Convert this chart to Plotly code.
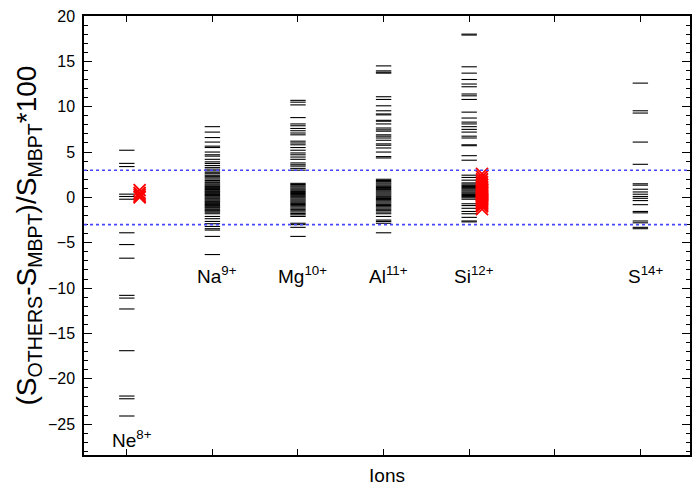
import plotly.graph_objects as go

# Ion positions on the x axis and their labels
ion_labels = ["Ne<sup>8+</sup>", "Na<sup>9+</sup>", "Mg<sup>10+</sup>",
              "Al<sup>11+</sup>", "Si<sup>12+</sup>", "S<sup>14+</sup>"]
ion_x = [1, 2, 3, 4, 5, 7]
label_y = [-26.6, -8.6, -8.6, -8.6, -8.6, -8.6]

# Percentage deviation of other calculations from MBPT, per ion
ne_dev = [5.2, 3.75, 3.4, 0.36, 0.1, -0.2, -3.9, -5.2, -6.7, -10.8, -11.1,
          -12.3, -16.9, -21.9, -22.2, -24.1]
na_dev = [7.8, 7.2, 6.6, 6.1, 5.65, 5.5, 5.0, 4.7, 4.55, 4.2, 3.92, 3.74,
          3.52, 3.31, 3.12, 2.93, 2.77, 2.61, 2.44, 2.32, 2.16, 2.02, 1.86,
          1.71, 1.62, 1.49, 1.38, 1.27, 1.19, 1.08, 0.97, 0.88, 0.79, 0.68,
          0.61, 0.52, 0.41, 0.33, 0.22, 0.14, 0.03, -0.08, -0.17, -0.28,
          -0.39, -0.47, -0.58, -0.69, -0.77, -0.88, -0.98, -1.09, -1.18,
          -1.31, -1.42, -1.51, -1.63, -1.8, -2.1, -2.35, -2.65, -2.9, -3.2,
          -3.45, -3.6, -4.3, -6.3]
mg_dev = [10.7, 10.5, 10.2, 8.8, 8.1, 7.9, 7.6, 7.35, 7.1, 6.9, 6.2, 6.0,
          5.8, 5.5, 5.2, 4.9, 4.7, 4.45, 4.2, 3.8, 3.6, 3.45, 3.2, 3.0,
          1.55, 1.42, 1.28, 1.16, 1.03, 0.91, 0.79, 0.66, 0.55, 0.43, 0.31,
          0.19, 0.08, -0.04, -0.17, -0.29, -0.41, -0.53, -0.66, -0.78,
          -0.91, -1.04, -1.18, -1.32, -1.47, -1.61, -1.78, -1.92, -2.1,
          -2.85, -3.0, -3.3, -4.3]
al_dev = [14.5, 13.95, 13.8, 13.7, 11.1, 10.8, 10.1, 9.55, 9.2, 9.1, 8.5,
          8.4, 8.1, 7.65, 7.45, 7.3, 6.9, 6.75, 6.55, 6.3, 5.9, 5.75, 5.45,
          5.0, 4.5, 4.35, 2.0, 1.87, 1.74, 1.6, 1.48, 1.35, 1.22, 1.1, 0.97,
          0.86, 0.73, 0.61, 0.49, 0.37, 0.25, 0.12, 0.01, -0.12, -0.24,
          -0.37, -0.5, -0.63, -0.77, -0.9, -1.03, -1.17, -1.31, -1.46,
          -1.62, -1.8, -2.1, -2.5, -2.65, -2.85, -3.9]
si_dev = [18.0, 17.9, 14.4, 13.7, 13.0, 12.5, 12.2, 11.4, 11.2, 10.8, 9.4,
          8.75, 8.3, 8.1, 7.8, 7.5, 7.2, 6.75, 6.55, 5.8, 5.7, 4.6, 4.1,
          2.45, 2.2, 1.9, 1.6, 1.47, 1.33, 1.21, 1.08, 0.96, 0.83, 0.71,
          0.58, 0.46, 0.33, 0.21, 0.09, -0.04, -0.2, -0.7, -0.9, -1.2,
          -1.55, -1.8, -2.2, -2.6, -2.7]
s_dev = [12.6, 9.55, 9.3, 6.1, 3.65, 1.5, 1.35, 0.9, 0.6, 0.35, 0.1, -0.1,
         -0.35, -0.8, -1.55, -1.7, -2.6, -2.8, -3.3, -3.45]
all_dev = [ne_dev, na_dev, mg_dev, al_dev, si_dev, s_dev]

# Present results (red crosses), shown next to the Ne and Si columns
ne_present = [0.8, 0.5, 0.3, 0.1, 0.0]
si_present = [2.6, 2.3, 2.0, 1.7, 1.4, 1.2, 1.0, 0.9, 0.8, 0.7, 0.6, 0.5,
              0.4, 0.3, 0.2, 0.1, 0.0, -0.1, -0.2, -0.3, -0.4, -0.5, -0.6,
              -0.7, -0.8, -0.9, -1.0, -1.3]
present_offset = 0.15

# +/- 3 % agreement band
band = [3, -3]

fig = go.Figure()

for xpos, vals in zip(ion_x, all_dev):
    fig.add_trace(go.Scatter(
        x=[xpos] * len(vals), y=vals, mode="markers",
        marker=dict(symbol="line-ew", size=11,
                    line=dict(color="black", width=1.1)),
        showlegend=False, hoverinfo="y"))

for xpos, vals in [(ion_x[0], ne_present), (ion_x[4], si_present)]:
    fig.add_trace(go.Scatter(
        x=[xpos + present_offset] * len(vals), y=vals, mode="markers",
        marker=dict(symbol="x-thin", size=12,
                    line=dict(color="red", width=1.8)),
        showlegend=False, hoverinfo="y"))

for yv in band:
    fig.add_shape(type="line", xref="paper", x0=0, x1=1, yref="y",
                  y0=yv, y1=yv,
                  line=dict(color="rgb(70,70,255)", width=1.6, dash="dot"))

for xpos, yv, txt in zip(ion_x, label_y, ion_labels):
    fig.add_annotation(x=xpos, y=yv, text=txt, showarrow=False,
                       xanchor="center", yanchor="middle", xshift=5,
                       font=dict(size=19, color="black"))

font_family = "Liberation Sans, Arial, sans-serif"

fig.update_layout(
    width=700, height=493,
    margin=dict(l=84, r=8, t=12, b=38),
    paper_bgcolor="white", plot_bgcolor="white",
    font=dict(family=font_family, color="black"),
    xaxis=dict(range=[0.5, 7.58], tickvals=[1, 2, 3, 4, 5, 6, 7],
               showticklabels=False, ticks="inside", ticklen=6,
               tickwidth=1, tickcolor="black",
               showline=True, linecolor="black", linewidth=1.5,
               mirror="ticks", showgrid=False, zeroline=False,
               title=dict(text="Ions", font=dict(size=19), standoff=13)),
    yaxis=dict(range=[-28.4, 20], tickvals=[-25, -20, -15, -10, -5, 0, 5, 10, 15, 20],
               ticks="inside", ticklen=8, tickwidth=1, tickcolor="black",
               minor=dict(dtick=1, ticks="inside", ticklen=4,
                          tickcolor="black", tickwidth=1),
               tickfont=dict(size=16), ticklabelstandoff=4,
               showline=True, linecolor="black", linewidth=1.5,
               mirror="ticks", showgrid=False, zeroline=False,
               title=dict(text="(S<sub>OTHERS</sub>-S<sub>MBPT</sub>)/S<sub>MBPT</sub>*100",
                          font=dict(size=28), standoff=3)),
)

fig.write_html("out.html")
